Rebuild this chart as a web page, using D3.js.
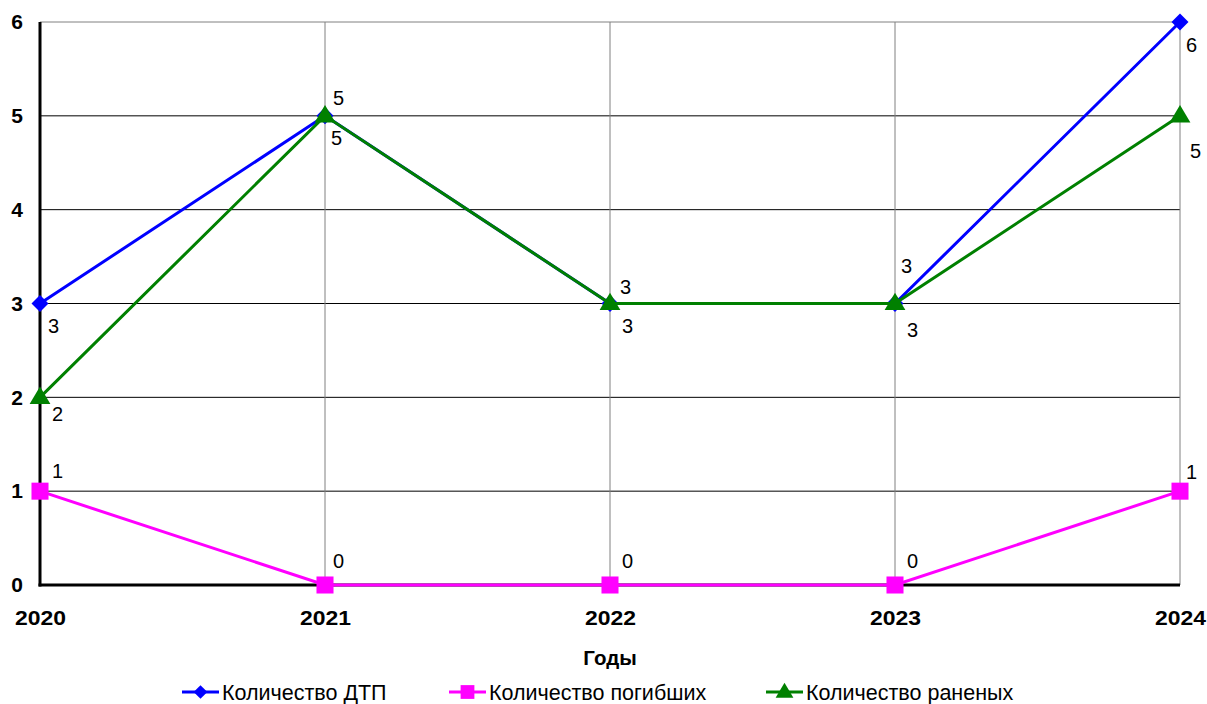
<!DOCTYPE html>
<html>
<head>
<meta charset="utf-8">
<script src="https://cdn.jsdelivr.net/npm/d3@7/dist/d3.min.js"></script>
<style>
  html, body { margin: 0; padding: 0; background: #fff; }
  svg { display: block; font-family: "Liberation Sans", Arial, sans-serif; }
</style>
</head>
<body>
<svg id="chart" width="1207" height="704"></svg>
<script>
// Годовая статистика ДТП
const years = ["2020", "2021", "2022", "2023", "2024"];
const accidents = [3, 5, 3, 3, 6];   // Количество ДТП
const deaths = [1, 0, 0, 0, 1];      // Количество погибших
const injured = [2, 5, 3, 3, 5];     // Количество раненых
const yTicks = [0, 1, 2, 3, 4, 5, 6];

// Смещения подписей значений относительно точек (dx, dy)
const accidentLabelOffsets = [[8, 29], [8, -11], [10, -10], [6, -31], [6, 30]];
const deathLabelOffsets = [[12, -13], [8, -17], [12, -17], [12, -17], [6, -12]];
const injuredLabelOffsets = [[12, 24], [6, 29], [12, 29], [12, 33], [10, 42]];

const FONT = "Liberation Sans, Arial, sans-serif";
const svg = d3.select("#chart");
const margin = { left: 40, right: 27, top: 22, bottom: 119 };
const W = 1207, H = 704;

const x = d3.scalePoint().domain(years).range([margin.left, W - margin.right]);
const y = d3.scaleLinear().domain([0, 6]).range([H - margin.bottom, margin.top]);

// Сетка
const grid = svg.append("g");
grid.selectAll("line.h").data(yTicks.filter(d => d > 0)).join("line")
  .attr("x1", margin.left).attr("x2", W - margin.right)
  .attr("y1", d => y(d)).attr("y2", d => y(d))
  .attr("stroke", d => d === 6 ? "#808080" : "#000").attr("stroke-width", 1);
grid.selectAll("line.v").data(years.slice(1)).join("line")
  .attr("x1", d => x(d)).attr("x2", d => x(d))
  .attr("y1", margin.top).attr("y2", y(0))
  .attr("stroke", "#808080").attr("stroke-width", 1);

// Оси
const yAxis = svg.append("g").attr("transform", `translate(${margin.left},0)`)
  .call(d3.axisLeft(y).tickValues(yTicks).tickFormat(d3.format("d")).tickSize(0).tickPadding(17));
yAxis.select(".domain").attr("stroke", "#000").attr("stroke-width", 3)
  .attr("d", `M0,${y(0) + 1.5}V${margin.top}`);
yAxis.selectAll("text").attr("font-size", 21).attr("font-weight", "bold").attr("fill", "#000")
  .attr("font-family", FONT);

const xAxis = svg.append("g").attr("transform", `translate(0,${y(0)})`)
  .call(d3.axisBottom(x).tickSize(0).tickPadding(25));
xAxis.select(".domain").attr("stroke", "#000").attr("stroke-width", 3)
  .attr("d", `M${margin.left - 1.5},0H${W - margin.right}`);
xAxis.selectAll("text").attr("font-size", 21).attr("font-weight", "bold").attr("fill", "#000")
  .attr("font-family", FONT).attr("textLength", 51).attr("lengthAdjust", "spacingAndGlyphs");

svg.append("text").attr("x", x("2022")).attr("y", 665).attr("text-anchor", "middle")
  .attr("font-size", 20.5).attr("font-weight", "bold").text("Годы");

const line = d3.line().x((d, i) => x(years[i])).y(d => y(d));

// Квадратный ромб и треугольник с основанием на уровне точки
const diamond = d3.symbolDiamond2 || d3.symbolDiamond;
const triangle = {
  draw(ctx, size) {
    const s = Math.sqrt(size);
    ctx.moveTo(0, -s * 0.62);
    ctx.lineTo(s * 0.6, s * 0.38);
    ctx.lineTo(-s * 0.6, s * 0.38);
    ctx.closePath();
  }
};

function series(values, color, shape, size) {
  const g = svg.append("g");
  g.append("path").datum(values).attr("d", line)
    .attr("fill", "none").attr("stroke", color).attr("stroke-width", 3);
  g.selectAll("path.m").data(values).join("path")
    .attr("transform", (d, i) => `translate(${x(years[i])},${y(d)})`)
    .attr("d", d3.symbol().type(shape).size(size)).attr("fill", color);
  return g;
}

series(deaths, "#ff00ff", d3.symbolSquare, 290);
series(accidents, "#0000ff", diamond, 185);
series(injured, "#008000", triangle, 300);

// Подписи значений
function labels(values, offsets) {
  svg.append("g").selectAll("text").data(values).join("text")
    .attr("x", (d, i) => x(years[i]) + offsets[i][0])
    .attr("y", (d, i) => y(d) + offsets[i][1])
    .attr("font-size", 20).attr("fill", "#000").text(d => d);
}
labels(accidents, accidentLabelOffsets);
labels(deaths, deathLabelOffsets);
labels(injured, injuredLabelOffsets);

// Легенда
const legendItems = [
  { name: "Количество ДТП", color: "#0000ff", shape: diamond, size: 120, x: 182 },
  { name: "Количество погибших", color: "#ff00ff", shape: d3.symbolSquare, size: 190, x: 449 },
  { name: "Количество раненых", color: "#008000", shape: triangle, size: 220, x: 766 }
];
const lg = svg.append("g").selectAll("g").data(legendItems).join("g")
  .attr("transform", d => `translate(${d.x},692)`);
lg.append("line").attr("x1", 0).attr("x2", 37).attr("stroke", d => d.color).attr("stroke-width", 3);
lg.append("path").attr("transform", "translate(18.5,0)")
  .attr("d", d => d3.symbol().type(d.shape).size(d.size)()).attr("fill", d => d.color);
lg.append("text").attr("x", 40).attr("y", 8).attr("font-size", 21.5).text(d => d.name);
</script>
</body>
</html>
